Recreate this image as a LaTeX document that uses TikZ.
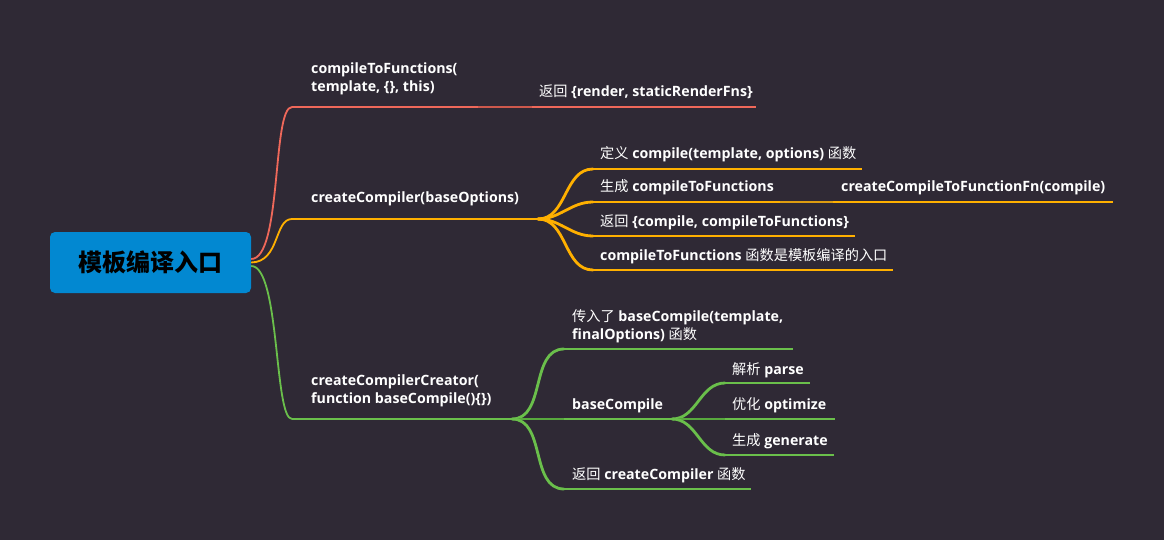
\documentclass[tikz,border=0pt]{standalone}
\usepackage{fontspec}
\setmainfont{Open Sans}
\newfontfamily\cjk{Noto Sans CJK SC}
\newcommand\zh[1]{{\cjk\mdseries #1}}
\definecolor{bg}{RGB}{47,41,53}
\definecolor{rootblue}{RGB}{2,136,209}
\definecolor{cred}{RGB}{239,104,90}
\definecolor{creddark}{RGB}{205,88,76}
\definecolor{corange}{RGB}{255,176,0}
\definecolor{corangedark}{RGB}{222,156,16}
\definecolor{cgreen}{RGB}{106,191,75}
\definecolor{cgreendark}{RGB}{88,168,62}
\tikzset{
  lbl/.style={anchor=base west, inner sep=0pt, text=white, align=left,
    font=\fontsize{14.2}{18}\selectfont\bfseries},
  root/.style={fill=rootblue, rounded corners=5pt, minimum width=201pt,
    minimum height=61pt, inner sep=0pt, text=black,
    font=\fontsize{24}{28}\selectfont\cjk\bfseries},
  trunk/.style={line width=1.8pt},
  ul/.style={line width=2pt},
  fan/.style={line width=2.8pt, line cap=round},
  link/.style={line width=2.8pt},
}
\begin{document}
\begin{tikzpicture}[x=1pt, y=-1pt]
\fill[bg] (0,0) rectangle (1164,540);
\useasboundingbox (0,0) rectangle (1164,540);

% root
\node[root] (root) at (150.5,262.5) {模板编译入口};
\coordinate (rA) at ([yshift=3.5pt]root.east);
\coordinate (rB) at (root.east);
\coordinate (rC) at ([yshift=-3.5pt]root.east);

% ---------------- red branch ----------------
\coordinate (aS) at (292,107);
\coordinate (aE) at (478,107);
\coordinate (a1S) at (532,107);
\coordinate (a1E) at (756,107);
\node[lbl] (a) at (311,92) {compileToFunctions(\\template, \{\}, this)};
\node[lbl] (a1) at (539,97) {\zh{返回} \{render, staticRenderFns\}};
\draw[cred, trunk] (rA) .. controls (282,259) and (272,107) .. (aS);
\draw[cred, ul] (aS) -- (aE);
\draw[creddark, link] (aE) -- (a1S);
\draw[cred, ul] (a1S) -- (a1E);

% ---------------- orange branch ----------------
\coordinate (bS) at (292,219);
\coordinate (bE) at (538,219);
\node[lbl] (b) at (311,203) {createCompiler(baseOptions)};
\draw[corange, trunk] (rB) .. controls (280,262) and (274,219) .. (bS);
\draw[corange, ul] (bS) -- (bE);

\coordinate (b1S) at (593,169); \coordinate (b1E) at (862,169);
\coordinate (b2S) at (593,202); \coordinate (b2E) at (780,202);
\coordinate (b3S) at (593,236); \coordinate (b3E) at (855,236);
\coordinate (b4S) at (593,270); \coordinate (b4E) at (893,270);
\coordinate (b21S) at (833,202); \coordinate (b21E) at (1113,202);
\node[lbl] (b1) at (600,159) {\zh{定义} compile(template, options) \zh{函数}};
\node[lbl] (b2) at (600,192) {\zh{生成} compileToFunctions};
\node[lbl] (b21) at (841,192) {createCompileToFunctionFn(compile)};
\node[lbl] (b3) at (600,226) {\zh{返回} \{compile, compileToFunctions\}};
\node[lbl] (b4) at (600,260) {compileToFunctions \zh{函数是模板编译的入口}};
\foreach \t in {b1S,b2S,b3S,b4S}
  \draw[corange, fan] (bE) to[out=0, in=180] (\t);
\draw[corange, ul] (b1S) -- (b1E);
\draw[corange, ul] (b2S) -- (b2E);
\draw[corange, ul] (b3S) -- (b3E);
\draw[corange, ul] (b4S) -- (b4E);
\draw[corangedark, link] (b2E) -- (b21S);
\draw[corange, ul] (b21S) -- (b21E);

% ---------------- green branch ----------------
\coordinate (cS) at (292,419);
\coordinate (cE) at (512,419);
\node[lbl] (c) at (311,403) {createCompilerCreator(\\function baseCompile()\{\})};
\draw[cgreen, trunk] (rC) .. controls (280,266) and (274,419) .. (cS);
\draw[cgreen, ul] (cS) -- (cE);

\coordinate (c1S) at (564,349); \coordinate (c1E) at (793,349);
\coordinate (c2S) at (564,419); \coordinate (c2E) at (672,419);
\coordinate (c3S) at (564,489); \coordinate (c3E) at (751,489);
\node[lbl] (c1) at (572,339) {\zh{传入了} baseCompile(template,\\finalOptions) \zh{函数}};
\node[lbl] (c2) at (572,409) {baseCompile};
\node[lbl] (c3) at (572,479) {\zh{返回} createCompiler \zh{函数}};
\draw[cgreen, fan] (cE) to[out=0, in=180] (c1S);
\draw[cgreendark, link] (cE) -- (c2S);
\draw[cgreen, fan] (cE) to[out=0, in=180] (c3S);
\draw[cgreen, ul] (c1S) -- (c1E);
\draw[cgreen, ul] (c2S) -- (c2E);
\draw[cgreen, ul] (c3S) -- (c3E);

\coordinate (d1S) at (725,383); \coordinate (d1E) at (810,383);
\coordinate (d2S) at (725,419); \coordinate (d2E) at (835,419);
\coordinate (d3S) at (725,455); \coordinate (d3E) at (834,455);
\node[lbl] (d1) at (732,374) {\zh{解析} parse};
\node[lbl] (d2) at (732,409) {\zh{优化} optimize};
\node[lbl] (d3) at (732,445) {\zh{生成} generate};
\draw[cgreen, fan] (c2E) to[out=0, in=180] (d1S);
\draw[cgreendark, link] (c2E) -- (d2S);
\draw[cgreen, fan] (c2E) to[out=0, in=180] (d3S);
\draw[cgreen, ul] (d1S) -- (d1E);
\draw[cgreen, ul] (d2S) -- (d2E);
\draw[cgreen, ul] (d3S) -- (d3E);
\end{tikzpicture}
\end{document}
